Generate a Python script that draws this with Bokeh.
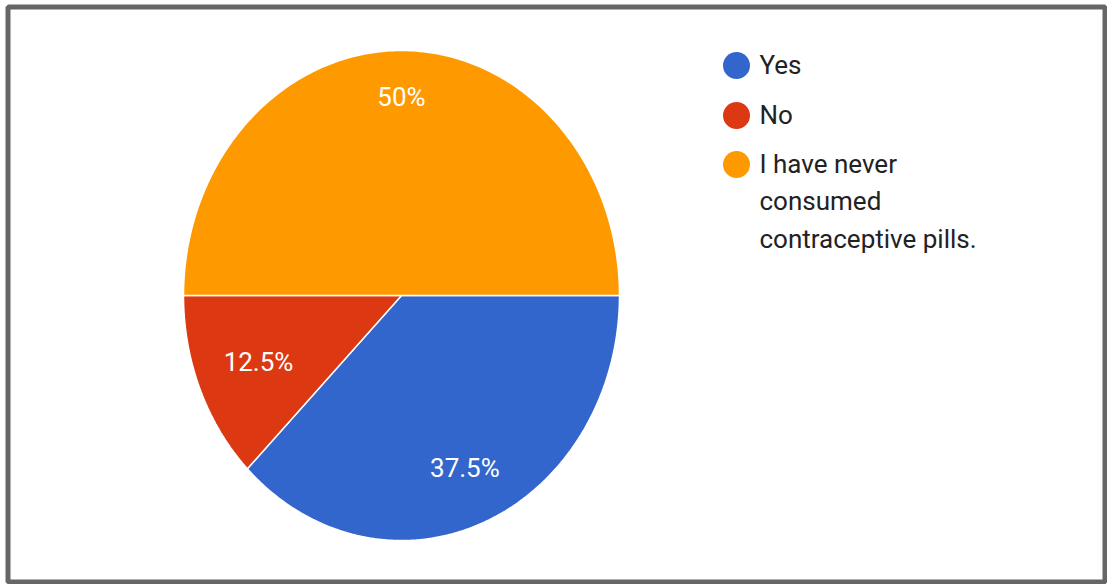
import numpy as np
from bokeh.plotting import figure
from bokeh.models import Range1d, BoxAnnotation, ColumnDataSource
from bokeh.core.properties import value
from bokeh.embed import file_html
from bokeh.resources import INLINE

# ---- data ----
categories = ["Yes", "No", "I have never consumed contraceptive pills."]
legend_lines = ["Yes", "No", "I have never\nconsumed\ncontraceptive pills."]
percentages = [37.5, 12.5, 50.0]
pct_labels = ["37.5%", "12.5%", "50%"]
colors = ["#3366CC", "#DC3912", "#FF9900"]

# ---- layout ----
W, H = 1107, 584
cx, cy = 401, 295          # pie centre (pixels, y downward)
rx, ry = 218, 245          # pie radii
label_r = [0.76, 0.71, 0.81]

p = figure(width=W, height=H, output_backend="svg", toolbar_location=None,
           x_range=Range1d(0, W), y_range=Range1d(H, 0), min_border=0,
           outline_line_color=None)
p.axis.visible = False
p.grid.visible = False
p.background_fill_color = "white"
p.border_fill_color = "white"

vals = np.array(percentages, dtype=float)
fr = vals / vals.sum()
ends = np.cumsum(fr) * 2 * np.pi
starts = ends - fr * 2 * np.pi

xs, ys, lx, ly = [], [], [], []
for s, e, r in zip(starts, ends, label_r):
    t = np.linspace(s, e, 200)
    xs.append(np.concatenate([[cx], cx + rx * np.cos(t), [cx]]))
    ys.append(np.concatenate([[cy], cy + ry * np.sin(t), [cy]]))
    m = (s + e) / 2
    lx.append(cx + r * rx * np.cos(m))
    ly.append(cy + r * ry * np.sin(m))

src = ColumnDataSource(dict(xs=xs, ys=ys, color=colors, cat=categories,
                            lx=lx, ly=ly, lab=pct_labels))
p.patches("xs", "ys", source=src, fill_color="color", line_color="white",
          line_width=1.5)
p.text("lx", "ly", text="lab", source=src, text_color="#FFFFFF",
       text_font=value("Roboto"), text_font_size="26px",
       text_align="center", text_baseline="middle")

# ---- legend ----
leg_x = 736
leg_y = [65, 115, 164]
fs = 26
lsrc = ColumnDataSource(dict(x=[leg_x] * 3, y=leg_y, color=colors,
                             tx=[leg_x + 23] * 3,
                             ty=[y - 0.6 * fs for y in leg_y],
                             lab=legend_lines))
p.scatter("x", "y", source=lsrc, size=27, marker="circle",
          fill_color="color", line_color=None)
p.text("tx", "ty", text="lab", source=lsrc, text_color="#222222",
       text_font=value("Roboto"), text_font_size=f"{fs}px",
       text_align="left", text_baseline="top", text_line_height=1.25)

# ---- frame border ----
p.add_layout(BoxAnnotation(left=7.5, right=1104.5, top=6.5, bottom=581.5,
                           fill_alpha=0, line_color="#666666", line_alpha=1.0,
                           line_width=5))

open("out.html", "w").write(file_html(p, INLINE))
